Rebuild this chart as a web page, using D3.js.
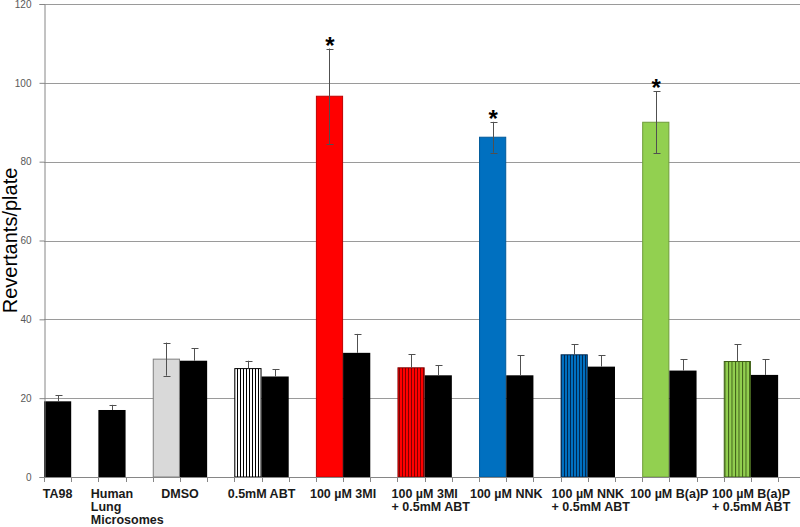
<!DOCTYPE html>
<html>
<head>
<meta charset="utf-8">
<script src="https://cdn.jsdelivr.net/npm/d3@7"></script>
<style>
  html, body { margin: 0; padding: 0; background: #fff; }
  svg { display: block; }
</style>
</head>
<body>
<svg id="chart" width="800" height="527"></svg>
<script>
// ---- Data ----
const slotCount = 28;
const barSlots  = [0, 2, 4, 5, 7, 8, 10, 11, 13, 14, 16, 17, 19, 20, 22, 23, 25, 26];
const barValues = [19.2, 17.0, 29.9, 29.5, 27.5, 25.5, 96.6, 31.5, 27.7, 25.8, 86.2, 25.8, 31.0, 28.0, 90.0, 27.0, 29.3, 25.9];
const barErrors = [1.5, 1.3, 4.2, 3.2, 2.0, 1.8, 12.1, 4.8, 3.4, 2.6, 3.9, 5.1, 2.7, 2.9, 7.9, 2.9, 4.4, 4.0];
const barStyles = ["black", "black", "gray", "black", "hatchWhite", "black", "red", "black", "hatchRed", "black",
                   "blue", "black", "hatchBlue", "black", "green", "black", "hatchGreen", "black"];
const twoSided  = [false, false, true, false, false, false, true, false, false, false, true, false, false, false, true, false, false, false];
const starred   = [false, false, false, false, false, false, true, false, false, false, true, false, false, false, true, false, false, false];

const labelLines = [["TA98"], ["Human", "Lung", "Microsomes"], ["DMSO"], ["0.5mM ABT"], ["100 µM 3MI"],
                    ["100 µM 3MI", "+ 0.5mM ABT"], ["100 µM NNK"], ["100 µM NNK", "+ 0.5mM ABT"],
                    ["100 µM B(a)P"], ["100 µM B(a)P", "+ 0.5mM ABT"]];
const labelSlots = [[0], [2], [4, 5], [7, 8], [10, 11], [13, 14], [16, 17], [19, 20], [22, 23], [25, 26]];

const yTicks = [0, 20, 40, 60, 80, 100, 120];
const yTitle = "Revertants/plate";

// ---- Layout ----
const svg = d3.select("#chart");
const mLeft = 44, mBottom = 477, mTop = 4, slotW = 27.19;

const x = d3.scaleBand().domain(d3.range(slotCount)).range([mLeft, mLeft + slotCount * slotW]).padding(0);
const y = d3.scaleLinear().domain([0, 120]).range([mBottom, mTop]);

// ---- Patterns ----
const defs = svg.append("defs");
const styleMap = {
  black:      { fill: "#000000", stroke: "none" },
  gray:       { fill: "#D9D9D9", stroke: "#7F7F7F" },
  red:        { fill: "#FF0000", stroke: "#C00000" },
  blue:       { fill: "#0070C0", stroke: "#005A9A" },
  green:      { fill: "#92D050", stroke: "#6E9C3A" },
  hatchWhite: { bg: "#FFFFFF", line: "#000000", stroke: "#000000", sp: 3 },
  hatchRed:   { bg: "#FF0000", line: "#800000", stroke: "#800000", sp: 3 },
  hatchBlue:  { bg: "#0070C0", line: "#002850", stroke: "#002850", sp: 3 },
  hatchGreen: { bg: "#92D050", line: "#3F5F18", stroke: "#3F5F18", sp: 3.5 }
};
Object.entries(styleMap).forEach(([k, s]) => {
  if (s.bg) {
    const p = defs.append("pattern").attr("id", "p_" + k)
      .attr("patternUnits", "userSpaceOnUse").attr("width", s.sp).attr("height", 10);
    p.append("rect").attr("width", s.sp).attr("height", 10).attr("fill", s.bg);
    p.append("rect").attr("x", 0).attr("width", 1).attr("height", 10).attr("fill", s.line);
    s.fill = "url(#p_" + k + ")";
  }
});

// ---- Gridlines ----
svg.append("g").selectAll("line").data(yTicks.filter(d => d > 0)).join("line")
  .attr("x1", mLeft).attr("x2", 800)
  .attr("y1", d => Math.round(y(d)) + 0.5).attr("y2", d => Math.round(y(d)) + 0.5)
  .attr("stroke", "#9A9A9A").attr("stroke-width", 1);

// ---- Bars ----
const bars = barSlots.map((s, i) => ({ slot: s, v: barValues[i], e: barErrors[i], st: barStyles[i], two: twoSided[i], star: starred[i] }));
svg.append("g").selectAll("rect").data(bars).join("rect")
  .attr("x", d => x(d.slot) + (styleMap[d.st].stroke === "none" ? 0 : 0.5))
  .attr("y", d => y(d.v))
  .attr("width", d => x.bandwidth() - (styleMap[d.st].stroke === "none" ? 0 : 1))
  .attr("height", d => mBottom - y(d.v))
  .attr("fill", d => styleMap[d.st].fill)
  .attr("stroke", d => styleMap[d.st].stroke)
  .attr("stroke-width", 1);

// ---- Error bars ----
const eg = svg.append("g").attr("stroke", "#505050").attr("stroke-width", 1);
bars.forEach(d => {
  const cx = Math.round(x(d.slot) + x.bandwidth() / 2) + 0.5;
  const yTop = y(d.v + d.e), yBot = d.two ? y(d.v - d.e) : y(d.v);
  eg.append("line").attr("x1", cx).attr("x2", cx).attr("y1", yTop).attr("y2", yBot);
  eg.append("line").attr("x1", cx - 3).attr("x2", cx + 4).attr("y1", Math.round(yTop) + 0.5).attr("y2", Math.round(yTop) + 0.5);
  if (d.two) eg.append("line").attr("x1", cx - 3).attr("x2", cx + 4).attr("y1", Math.round(yBot) + 0.5).attr("y2", Math.round(yBot) + 0.5);
});

// ---- Stars ----
svg.append("g").selectAll("text").data(bars.filter(d => d.star)).join("text")
  .attr("x", d => x(d.slot) + x.bandwidth() / 2 + 0.5)
  .attr("y", d => y(d.v + d.e) + 5)
  .attr("text-anchor", "middle")
  .attr("font-family", "Liberation Sans, Arial, sans-serif")
  .attr("font-weight", "bold").attr("font-size", 24).attr("fill", "#000")
  .text("*");

// ---- Axes ----
const yAxis = svg.append("g").attr("transform", `translate(${mLeft + 0.5},0)`)
  .call(d3.axisLeft(y).tickValues(yTicks).tickSize(5).tickPadding(8).tickFormat(d3.format("d")));
yAxis.select(".domain").attr("stroke", "#868686");
yAxis.selectAll(".tick line").attr("stroke", "#868686");
yAxis.selectAll(".tick text").attr("fill", "#595959")
  .attr("font-family", "Liberation Sans, Arial, sans-serif").attr("font-size", 10);

const xTickPos = d3.range(slotCount).map(i => x(i)).filter(v => v <= 800);
const xg = svg.append("g");
xg.append("line").attr("x1", mLeft).attr("x2", 800).attr("y1", mBottom + 0.5).attr("y2", mBottom + 0.5).attr("stroke", "#868686");
xg.selectAll("line.t").data(xTickPos).join("line").attr("class", "t")
  .attr("x1", d => Math.round(d) + 0.5).attr("x2", d => Math.round(d) + 0.5)
  .attr("y1", mBottom).attr("y2", mBottom + 5).attr("stroke", "#868686");

// ---- Category labels ----
const lg = svg.append("g").attr("font-family", "Liberation Sans, Arial, sans-serif")
  .attr("font-weight", "bold").attr("font-size", 12.5).attr("fill", "#1a1a1a");
labelLines.forEach((lines, i) => {
  const slots = labelSlots[i];
  const cx = (x(slots[0]) + x(slots[slots.length - 1]) + x.bandwidth()) / 2;
  const t = lg.append("text").attr("x", cx).attr("y", 498).attr("text-anchor", "middle").text(lines[0]);
  const w = t.node().getComputedTextLength();
  lines.slice(1).forEach((ln, j) => {
    lg.append("text").attr("x", cx - w / 2).attr("y", 498 + 13 * (j + 1)).attr("text-anchor", "start").text(ln);
  });
});

// ---- Y title ----
svg.append("text")
  .attr("transform", `translate(17,${(mTop + mBottom) / 2}) rotate(-90)`)
  .attr("text-anchor", "middle")
  .attr("font-family", "Liberation Sans, Arial, sans-serif")
  .attr("font-size", 20).attr("fill", "#000")
  .text(yTitle);
</script>
</body>
</html>
